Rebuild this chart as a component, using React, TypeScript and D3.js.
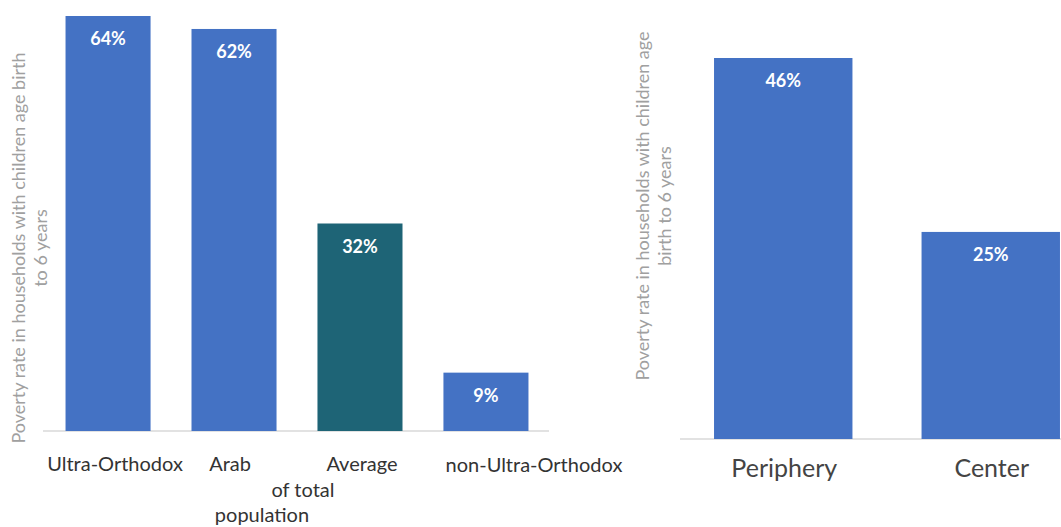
import React from "react";
import * as d3 from "d3";

const leftCategories = ["Ultra-Orthodox", "Arab", "Average of total population", "non-Ultra-Orthodox"];
const leftValues = [64, 62, 32, 9];
const leftLabels = ["64%", "62%", "32%", "9%"];

const rightCategories = ["Periphery", "Center"];
const rightValues = [46, 25];
const rightLabels = ["46%", "25%"];

const yTitleLeft = ["Poverty rate in households with children age birth", "to 6 years"];
const yTitleRight = ["Poverty rate in households with children age", "birth to 6 years"];

const BLUE = "#4472C4";
const TEAL = "#1E6476";
const FONT = "Lato, 'Open Sans', sans-serif";

export default function App() {
  const W = 1061;
  const H = 527;

  const xL = d3.scaleBand<string>().domain(leftCategories).range([45, 549]).paddingInner(0.325).paddingOuter(0.163);
  const yL = d3.scaleLinear().domain([0, d3.max(leftValues) as number]).range([431, 16]);

  const xR = d3.scaleBand<string>().domain(rightCategories).range([680, 1094]).paddingInner(0.333).paddingOuter(0.164);
  const yR = d3.scaleLinear().domain([0, d3.max(rightValues) as number]).range([439, 58]);

  // category label layout (lines with offsets from band centre)
  const leftCatLines: { text: string; dx: number; y: number }[][] = [
    [{ text: "Ultra-Orthodox", dx: 7, y: 471 }],
    [{ text: "Arab", dx: -4, y: 471 }],
    [
      { text: "Average", dx: 2, y: 471 },
      { text: "of total", dx: -57, y: 497 },
      { text: "population", dx: -98, y: 522 },
    ],
    [{ text: "non-Ultra-Orthodox", dx: 48, y: 472 }],
  ];

  return (
    <svg width={W} height={H} style={{ position: "absolute", left: 0, top: 0, background: "#fff" }}>
      <rect x={0} y={0} width={W} height={H} fill="#fff" />

      {/* LEFT CHART */}
      <line x1={43} x2={549} y1={yL(0)} y2={yL(0)} stroke="#D9D9D9" strokeWidth={1.5} />
      {leftCategories.map((c, i) => (
        <rect
          key={c}
          x={xL(c)}
          y={yL(leftValues[i])}
          width={xL.bandwidth()}
          height={yL(0) - yL(leftValues[i])}
          fill={i === 2 ? TEAL : BLUE}
        />
      ))}
      {leftCategories.map((c, i) => (
        <text
          key={c + "-lbl"}
          x={(xL(c) as number) + xL.bandwidth() / 2}
          y={yL(leftValues[i]) + 29}
          textAnchor="middle"
          fill="#fff"
          fontFamily={FONT}
          fontWeight={700}
          fontSize={18}
        >
          {leftLabels[i]}
        </text>
      ))}
      {leftCategories.map((c, i) =>
        leftCatLines[i].map((ln, j) => (
          <text
            key={c + "-cat-" + j}
            x={(xL(c) as number) + xL.bandwidth() / 2 + ln.dx}
            y={ln.y}
            textAnchor="middle"
            fill="#333"
            fontFamily={FONT}
            fontSize={20}
          >
            {ln.text}
          </text>
        ))
      )}
      <text transform="translate(25,248) rotate(-90)" textAnchor="middle" fill="#A0A0A0" fontFamily={FONT} fontSize={18}>
        {yTitleLeft.map((t, i) => (
          <tspan key={i} x={0} y={i * 22}>
            {t}
          </tspan>
        ))}
      </text>

      {/* RIGHT CHART */}
      <line x1={680} x2={W} y1={yR(0)} y2={yR(0)} stroke="#D9D9D9" strokeWidth={1.5} />
      {rightCategories.map((c, i) => (
        <rect
          key={c}
          x={xR(c)}
          y={yR(rightValues[i])}
          width={xR.bandwidth()}
          height={yR(0) - yR(rightValues[i])}
          fill={BLUE}
        />
      ))}
      {rightCategories.map((c, i) => (
        <text
          key={c + "-lbl"}
          x={(xR(c) as number) + xR.bandwidth() / 2}
          y={yR(rightValues[i]) + 29}
          textAnchor="middle"
          fill="#fff"
          fontFamily={FONT}
          fontWeight={700}
          fontSize={18}
        >
          {rightLabels[i]}
        </text>
      ))}
      {rightCategories.map((c) => (
        <text
          key={c + "-cat"}
          x={(xR(c) as number) + xR.bandwidth() / 2 + 1}
          y={477}
          textAnchor="middle"
          fill="#444"
          fontFamily={FONT}
          fontSize={25}
        >
          {c}
        </text>
      ))}
      <text transform="translate(649,206) rotate(-90)" textAnchor="middle" fill="#A0A0A0" fontFamily={FONT} fontSize={18}>
        {yTitleRight.map((t, i) => (
          <tspan key={i} x={0} y={i * 22}>
            {t}
          </tspan>
        ))}
      </text>
    </svg>
  );
}
